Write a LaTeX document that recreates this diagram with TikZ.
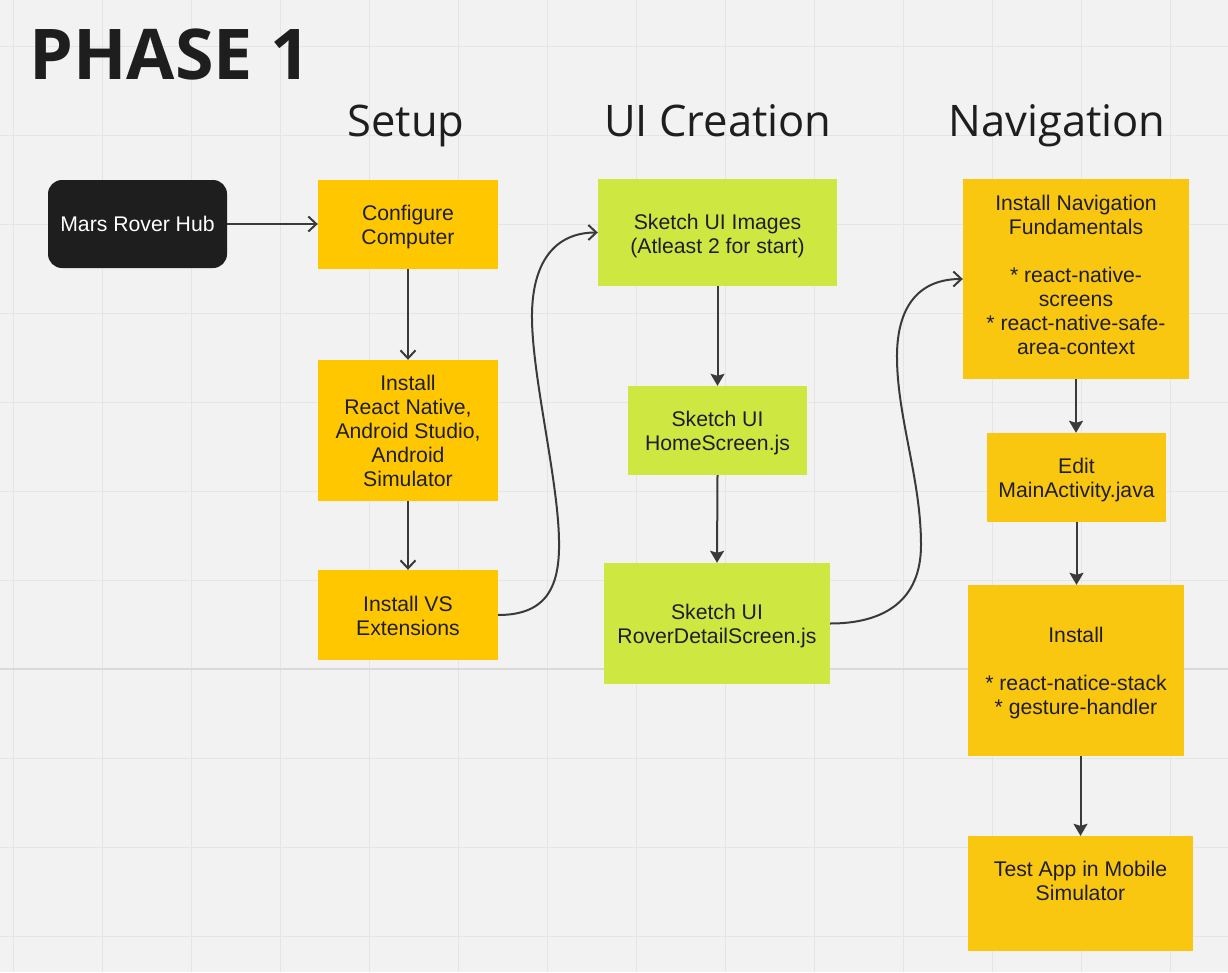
\documentclass[tikz,border=0pt]{standalone}
\usepackage{fontspec}
\setmainfont{Liberation Sans}
\newfontfamily\headfont{Open Sans}
\usetikzlibrary{arrows.meta}
\definecolor{bg}{HTML}{F2F2F2}
\definecolor{gridc}{HTML}{E5E5E5}
\definecolor{gridd}{HTML}{D9D9D9}
\definecolor{setupy}{HTML}{FFC700}
\definecolor{navyel}{HTML}{FAC710}
\definecolor{limeg}{HTML}{CEE741}
\definecolor{hubc}{HTML}{1E1E1E}
\definecolor{txt}{HTML}{1E1E30}
\definecolor{arr}{HTML}{3A3A3A}
\definecolor{headc}{HTML}{1E1E1E}
\newcommand{\padtop}[1]{\rule{0pt}{#1pt}}
\newcommand{\padbot}[1]{\rule[-#1pt]{0pt}{#1pt}}
\begin{document}
\begin{tikzpicture}[x=1pt,y=-1pt,
  box/.style={draw=none, inner sep=0pt, align=center, text=txt,
    font=\fontsize{21.2}{24}\selectfont},
  hdr/.style={anchor=base, text=headc, font=\headfont\fontsize{43.5}{50}\selectfont},
  openarr/.style={draw=arr, line width=2pt, -{Straight Barb[length=8pt,width=15pt]}},
  fillarr/.style={draw=arr, line width=2pt, -{Stealth[length=12pt,width=14pt,inset=2pt]}}
]
\fill[bg] (0,0) rectangle (1228,972);
\useasboundingbox (0,0) rectangle (1228,972);
% grid
\foreach \i in {0,...,13} \draw[gridc, line width=1pt] (13+89*\i,0) -- (13+89*\i,972);
\foreach \j in {0,...,10} \draw[gridc, line width=1pt] (0,46+89*\j) -- (1228,46+89*\j);
\draw[gridd, line width=1.3pt] (0,669) -- (1228,669);

% title and headers
\node[anchor=base west, inner sep=0pt, text=headc, font=\headfont\bfseries\fontsize{70}{78}\selectfont] (title) at (29,79) {PHASE 1};
\node[hdr] (hsetup) at (406,136) {Setup};
\node[hdr] (hui) at (718,136) {UI Creation};
\node[hdr] (hnav) at (1057,136) {Navigation};

% nodes
\node[box, fill=hubc, text=white, rounded corners=14pt, minimum width=179, minimum height=88] (hub) at (137.5,224) {\padtop{16}Mars Rover Hub};

\node[box, fill=setupy, minimum width=180, minimum height=89] (cfg) at (408,224.5) {\padtop{21}Configure\\Computer};
\node[box, fill=setupy, minimum width=180, minimum height=141] (irn) at (408,430.5) {\padtop{17}Install\\React Native,\\Android Studio,\\Android\\Simulator};
\node[box, fill=setupy, minimum width=180, minimum height=90] (vs) at (408,615) {\padtop{17}Install VS\\Extensions};

\node[box, fill=limeg, minimum width=239, minimum height=107] (ui1) at (717.5,232.5) {\padtop{23}Sketch UI Images\\(Atleast 2 for start)};
\node[box, fill=limeg, minimum width=179, minimum height=89] (ui2) at (717.5,430.5) {\padtop{21}Sketch UI\\HomeScreen.js};
\node[box, fill=limeg, minimum width=226, minimum height=121] (ui3) at (717,623.5) {\padtop{21}Sketch UI\\RoverDetailScreen.js};

\node[box, fill=navyel, minimum width=226, minimum height=200] (nav1) at (1076,279) {Install Navigation\\Fundamentals\\[24pt]* react-native-\\screens\\* react-native-safe-\\area-context\padbot{8}};
\node[box, fill=navyel, minimum width=179, minimum height=89] (nav2) at (1076.5,477.5) {\padtop{21}Edit\\MainActivity.java};
\node[box, fill=navyel, minimum width=216, minimum height=171] (nav3) at (1076,670.5) {\padtop{21}Install\\[24pt]* react-natice-stack\\* gesture-handler};
\node[box, fill=navyel, minimum width=225, minimum height=115] (nav4) at (1080.5,893.5) {\padtop{22}Test App in Mobile\\Simulator\\\strut};

% connectors
\draw[openarr] (hub.east) -- (hub.east -| cfg.west);
\draw[openarr] (cfg.south) -- (irn.north);
\draw[openarr] (irn.south) -- (vs.north);
\draw[openarr] (vs.east) .. controls (548,615) and (560,585) .. (559,540)
  .. controls (558,480) and (533,380) .. (532,320)
  .. controls (531,262) and (555,232.5) .. (ui1.west);
\draw[fillarr] (ui1.south) -- (ui2.north);
\draw[fillarr] (ui2.south) -- (ui3.north);
\draw[openarr] (ui3.east) .. controls (885,623.5) and (921,600) .. (921,545)
  .. controls (921,480) and (898,420) .. (897,360)
  .. controls (896,305) and (920,279) .. (nav1.west);
\draw[fillarr] (nav1.south) -- (nav1.south |- nav2.north);
\draw[fillarr] (nav2.south) -- (nav2.south |- nav3.north);
\draw[fillarr] (nav3.south -| nav4.north) -- (nav4.north);
\end{tikzpicture}
\end{document}
